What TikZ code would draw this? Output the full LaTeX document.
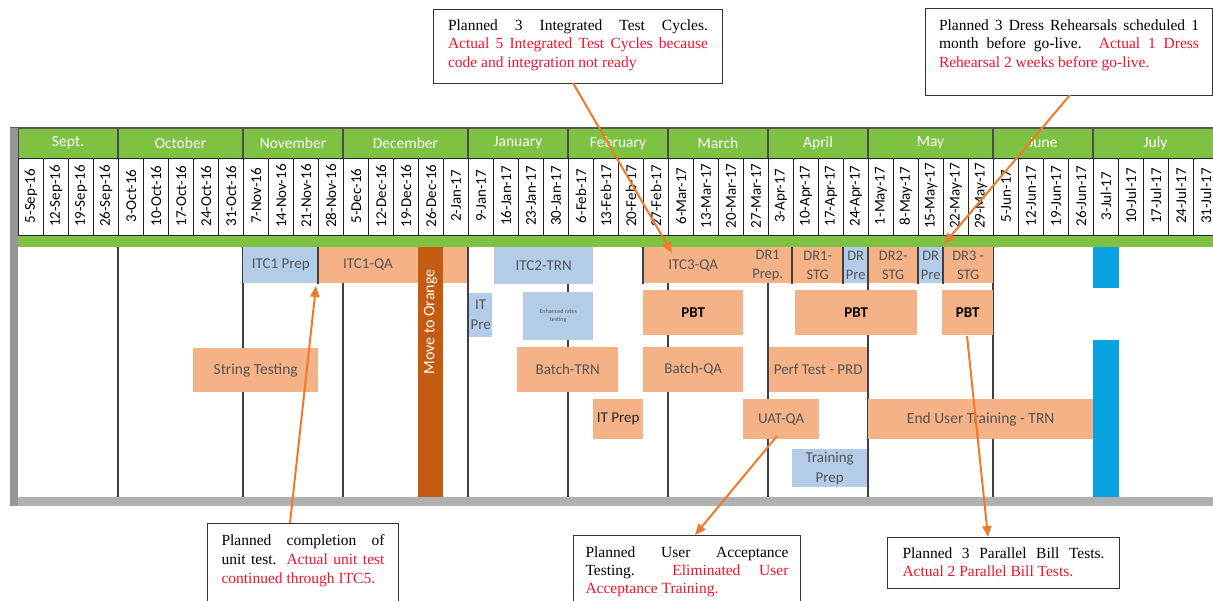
\documentclass[tikz,border=0pt]{standalone}
\usepackage{fontspec}
\setmainfont{Liberation Serif}
\newfontfamily\calib{Carlito}
\usetikzlibrary{arrows.meta}
\definecolor{hgreen}{HTML}{7DC243}
\definecolor{orng}{HTML}{F5B287}
\definecolor{lblue}{HTML}{B3CDE8}
\definecolor{dorng}{HTML}{C55A11}
\definecolor{bblue}{HTML}{0AA3E2}
\definecolor{barg}{HTML}{B0B0B0}
\definecolor{linec}{HTML}{404040}
\definecolor{boxtxt}{HTML}{555555}
\definecolor{arrowc}{HTML}{F07A2A}
\definecolor{redt}{HTML}{F0142D}
\newcommand\gbox[7]{\node[#1, minimum width={#5-#3}, minimum height={#6-#4}] (#2) at (#3,#4) {#7};}
\begin{document}
\begin{tikzpicture}[x=1pt,y=-1pt,
  box/.style={draw=none, inner sep=0pt, anchor=north west, align=center,
    font=\calib\fontsize{15}{20}\selectfont, text=boxtxt},
  ob/.style={box, fill=orng},
  bb/.style={box, fill=lblue},
  drbox/.style={font=\calib\fontsize{14.5}{19}\selectfont},
  pbt/.style={ob, text=black, font=\calib\bfseries\fontsize{15}{20}\selectfont},
  mline/.style={draw=linec, line width=1.3pt},
  hline/.style={draw=black!85, line width=0.8pt},
  datet/.style={rotate=90, inner sep=0pt, font=\calib\fontsize{15}{17}\selectfont, text=black},
  montht/.style={inner sep=0pt, font=\calib\fontsize{15.5}{17}\selectfont, text=white},
  callout/.style={draw=black!80, line width=1pt, fill=white, anchor=north west,
    font=\fontsize{15.5}{18.5}\selectfont},
  conn/.style={draw=arrowc, line width=2pt, -{Triangle[length=11pt,width=9pt]}}]
\useasboundingbox (0,0) rectangle (1213,601);
\fill[white] (0,0) rectangle (1213,601);
% header
\fill[hgreen] (18,128) rectangle (1213,158);
\fill[white] (18,158) rectangle (1213,235);
\fill[hgreen] (18,235) rectangle (1213,247);
\draw[draw=black!65, line width=2pt] (10,128) -- (1213,128);
\draw[hline] (18,158) -- (1213,158);
\draw[hline] (18,235) -- (1213,235);
\foreach \x in {18,118,243,343,468,568,668,768,868,993,1093}
  \draw[draw=black!70, line width=1.2pt] (\x,128) -- (\x,158);
\foreach \i in {0,...,48}
  \draw[hline] ({18+25*\i},158) -- ({18+25*\i},235);
\foreach \m/\c/\nm in {Sept./68/sep, October/180.5/oct, November/293/nov, December/405.5/dec,
  January/518/jan, February/618/feb, March/718/mar, April/818/apr, May/930.5/may,
  June/1043/jun, July/1155.5/jul}
  \node[montht] (m\nm) at (\c,143) {\m};
\foreach \d [count=\i from 0] in {5-Sep-16,12-Sep-16,19-Sep-16,26-Sep-16,3-Oct-16,10-Oct-16,
  17-Oct-16,24-Oct-16,31-Oct-16,7-Nov-16,14-Nov-16,21-Nov-16,28-Nov-16,5-Dec-16,12-Dec-16,
  19-Dec-16,26-Dec-16,2-Jan-17,9-Jan-17,16-Jan-17,23-Jan-17,30-Jan-17,6-Feb-17,13-Feb-17,
  20-Feb-17,27-Feb-17,6-Mar-17,13-Mar-17,20-Mar-17,27-Mar-17,3-Apr-17,10-Apr-17,17-Apr-17,
  24-Apr-17,1-May-17,8-May-17,15-May-17,22-May-17,29-May-17,5-Jun-17,12-Jun-17,19-Jun-17,
  26-Jun-17,3-Jul-17,10-Jul-17,17-Jul-17,24-Jul-17,31-Jul-17}
  \node[datet] (d\i) at ({31+25*\i},196) {\d};
% body month lines
\foreach \x in {118,243,343,468,568,668,768,868,993}
  \draw[mline] (\x,247) -- (\x,497);
% boxes
\gbox{bb}{itcprep}{243}{247}{318}{283}{ITC1 Prep}
\gbox{ob}{itcqa}{318}{247}{467}{283}{}
\node[box] (itcqat) at (368,265) [anchor=center] {ITC1-QA};
\gbox{box, fill=dorng}{movebar}{418}{247}{443}{497}{}
\node[box, anchor=center, rotate=90, text=white, font=\calib\fontsize{16}{18}\selectfont] (movet) at (430.5,322) {Move to Orange};
\gbox{bb}{itc2}{494}{247}{593}{284}{ITC2-TRN}
\gbox{bb}{itpre}{469}{293}{492}{337}{IT\\Pre}
\gbox{bb, font=\calib\fontsize{6}{8}\selectfont}{enh}{523}{292}{593}{340}{Enhanced rates\\testing}
\gbox{ob, font=\calib\fontsize{15.5}{20}\selectfont}{string}{193}{348}{318}{392}{String Testing}
\gbox{ob}{batchtrn}{517}{347}{618}{392}{Batch-TRN}
\gbox{ob, text=black!85}{itprep}{593}{399}{643}{439}{IT Prep}
\gbox{ob}{itc3}{643}{247}{743}{283}{ITC3-QA}
\gbox{ob, drbox}{dr1p}{743}{247}{792}{283}{DR1\\Prep.}
\gbox{ob, drbox}{dr1s}{792}{247}{843}{283}{DR1-\\STG}
\gbox{bb, drbox}{drp1}{843}{247}{868}{283}{DR\\Pre}
\gbox{ob, drbox}{dr2s}{868}{247}{918}{283}{DR2-\\STG}
\gbox{bb, drbox}{drp2}{918}{247}{943}{283}{DR\\Pre}
\gbox{ob, drbox}{dr3s}{943}{247}{993}{283}{DR3 -\\STG}
\gbox{pbt}{pbt1}{643}{290}{743}{335}{PBT}
\gbox{pbt}{pbt2}{795}{290}{917}{335}{PBT}
\gbox{pbt}{pbt3}{942}{290}{993}{335}{PBT}
\gbox{ob}{batchqa}{643}{347}{743}{392}{Batch-QA}
\gbox{ob}{perf}{769}{347}{867}{392}{Perf Test - PRD}
\gbox{ob}{uat}{743}{399}{819}{439}{UAT-QA}
\gbox{ob, font=\calib\fontsize{15.5}{20}\selectfont}{eut}{868}{399}{1093}{439}{End User Training - TRN}
\gbox{bb}{trprep}{792}{449}{867}{487}{Training\\Prep}
\gbox{box, fill=bblue}{bbar1}{1093}{247}{1119}{288}{}
\gbox{box, fill=bblue}{bbar2}{1093}{340}{1119}{497}{}
% row-1 separators
\foreach \x in {318,643,792,843,868,918,943}
  \draw[mline] (\x,247) -- (\x,284);
% frame bars
\fill[barg] (10,497) rectangle (1213,506);
\fill[barg!85!black] (10,128) rectangle (18,506);
% callouts
\node[callout, inner xsep=14.5pt, inner ysep=10pt] (box1) at (433,9)
  {\parbox[c][54pt][t]{260pt}{\hyphenpenalty=10000\exhyphenpenalty=10000
   Planned 3 Integrated Test Cycles.\linebreak
   {\color{redt}Actual 5 Integrated Test Cycles because\linebreak
   code and integration not ready}}};
\node[callout, inner xsep=13.5pt, inner ysep=11pt] (box2) at (925,8)
  {\parbox[c][65pt][t]{260pt}{\hyphenpenalty=10000\exhyphenpenalty=10000
   Planned 3 Dress Rehearsals scheduled 1\linebreak
   month before go-live. {\color{redt}Actual 1 Dress\linebreak
   Rehearsal 2 weeks before go-live.}}};
\node[callout, inner xsep=14pt, inner ysep=11pt] (box3) at (207,523)
  {\parbox[c][75pt][t]{163pt}{\fontsize{15.5}{19}\selectfont\hyphenpenalty=10000\exhyphenpenalty=10000
   Planned completion of\linebreak
   unit test. {\color{redt}Actual unit test\linebreak
   continued through ITC5.}}};
\node[callout, inner xsep=12pt, inner ysep=11.5pt] (box4) at (573,535)
  {\parbox[c][62pt][t]{203pt}{\fontsize{15.5}{18}\selectfont\hyphenpenalty=10000\exhyphenpenalty=10000
   Planned User Acceptance\linebreak
   Testing.\ \ {\color{redt}Eliminated User\linebreak
   Acceptance Training.}}};
\node[callout, inner xsep=15pt, inner ysep=10.5pt] (box5) at (887,537)
  {\parbox[c][30pt][t]{202pt}{\fontsize{15.5}{17.5}\selectfont\hyphenpenalty=10000\exhyphenpenalty=10000
   Planned 3 Parallel Bill Tests.\linebreak
   {\color{redt}Actual 2 Parallel Bill Tests.}}};
% connectors
\coordinate (c1s) at (573,83);
\coordinate (c1e) at (672,253);
\coordinate (c2s) at (1070,95);
\coordinate (c2e) at (944,244);
\coordinate (c3s) at (290,523);
\coordinate (c3e) at (316,286);
\coordinate (c4s) at (777,436);
\coordinate (c4e) at (695,535);
\coordinate (c5s) at (967,336);
\coordinate (c5e) at (988,537);
\draw[conn] (c1s) -- (c1e);
\draw[conn] (c2s) -- (c2e);
\draw[conn] (c3s) -- (c3e);
\draw[conn] (c4s) -- (c4e);
\draw[conn] (c5s) -- (c5e);
\end{tikzpicture}
\end{document}
